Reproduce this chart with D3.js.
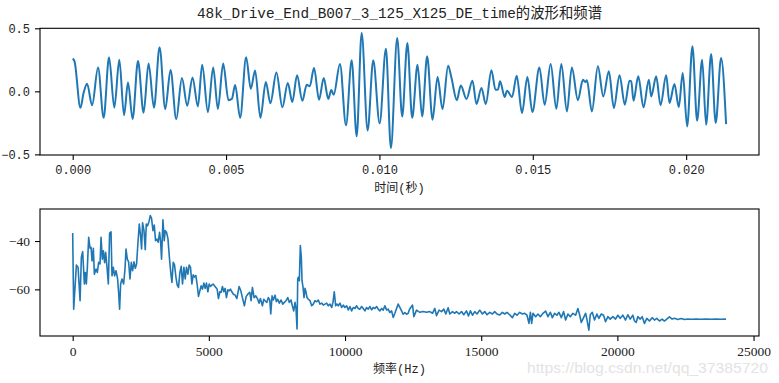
<!DOCTYPE html>
<html>
<head>
<meta charset="utf-8">
<script src="https://cdn.jsdelivr.net/npm/d3@7"></script>
<style>
  body { margin: 0; background: #fff; }
  svg { display: block; }
</style>
</head>
<body>
<div id="chart"></div>
<script>
var waveTime = [0, 0.00006, 0.000251, 0.000358, 0.000469, 0.000632, 0.000827, 0.001009, 0.001185, 0.001357,
  0.00152, 0.001673, 0.001803, 0.001953, 0.002129, 0.002311, 0.002474, 0.00265, 0.002832, 0.003018,
  0.00319, 0.003376, 0.003561, 0.003734, 0.003906, 0.004082, 0.004222, 0.004408, 0.00458, 0.004733,
  0.004906, 0.005078, 0.005189, 0.005296, 0.005459, 0.005654, 0.005807, 0.005947, 0.00612, 0.006296,
  0.006445, 0.006641, 0.006836, 0.007012, 0.007161, 0.007314, 0.007487, 0.00763, 0.007728, 0.007868,
  0.008031, 0.008184, 0.008333, 0.008431, 0.008509, 0.008714, 0.00891, 0.009095, 0.009258, 0.009421,
  0.009616, 0.009798, 0.010007, 0.010212, 0.010374, 0.010579, 0.010742, 0.010911, 0.011068, 0.011243,
  0.011393, 0.011556, 0.011732, 0.011895, 0.012057, 0.01224, 0.01235, 0.012523, 0.012653, 0.012839,
  0.013034, 0.013164, 0.013327, 0.013467, 0.013652, 0.013783, 0.013867, 0.013932, 0.014085, 0.01416,
  0.014323, 0.014476, 0.014648, 0.014824, 0.014987, 0.015215, 0.015387, 0.015583, 0.015768, 0.015931,
  0.016113, 0.016273, 0.016471, 0.016634, 0.016712, 0.016764, 0.016927, 0.017122, 0.017298, 0.01748,
  0.017643, 0.017829, 0.018001, 0.018154, 0.01821, 0.018284, 0.018438, 0.01861, 0.018783, 0.018861,
  0.019023, 0.019164, 0.019349, 0.019456, 0.019619, 0.019759, 0.019889, 0.020032, 0.020205, 0.020358,
  0.020521, 0.020651, 0.020814, 0.020963, 0.021139, 0.021302];
var waveAmp = [0.259, 0.238, -0.13, -0.01, 0.06, -0.11, 0.19, -0.21, 0.27, -0.13,
  0.25, -0.19, 0.07, -0.22, 0.24, -0.17, 0.22, -0.13, 0.35, -0.14,
  0.17, -0.22, 0.105, -0.115, 0.11, -0.12, 0.21, -0.165, 0.19, -0.14,
  0.22, -0.07, -0.06, 0.05, -0.21, 0.27, 0.02, 0.165, -0.21, 0.075,
  -0.095, 0.15, -0.127, 0.066, -0.085, 0.127, -0.075, 0.053, 0.04, 0.185,
  -0.067, 0.105, -0.06, 0.01, -0.027, 0.217, -0.27, 0.246, -0.357, 0.463,
  -0.31, 0.246, -0.254, 0.338, -0.45, 0.423, -0.2, 0.383, -0.21, 0.21,
  -0.2, 0.278, -0.225, 0.113, -0.14, 0.203, 0.105, -0.07, 0.047, -0.06,
  0.084, -0.1, 0.026, -0.1, 0.167, 0.013, 0.015, 0.08, -0.045, 0.005,
  -0.045, 0.124, -0.172, 0.113, -0.164, 0.19, -0.106, 0.217, -0.138, 0.217,
  -0.16, 0.19, -0.07, 0.092, 0.075, 0.087, -0.16, 0.198, -0.04, 0.159,
  -0.132, 0.127, -0.106, 0.084, 0.08, -0.075, 0.119, -0.127, 0.092, -0.04,
  0.119, -0.11, 0.127, -0.093, 0.058, -0.125, 0.145, -0.278, 0.357, -0.233,
  0.251, -0.265, 0.296, -0.252, 0.264, -0.26];

// spectrum (Hz, dB)
var specFreq = [0, 37, 136, 198, 271, 319, 367, 429, 466, 502, 539, 587, 638, 674, 711, 759, 796, 858, 906, 953,
  1004, 1041, 1089, 1125, 1173, 1210, 1261, 1309, 1356, 1408, 1444, 1492, 1540, 1591, 1650, 1686, 1723, 1760, 1811, 1870,
  1921, 1958, 2005, 2053, 2104, 2152, 2200, 2251, 2299, 2346, 2398, 2445, 2493, 2530, 2566, 2618, 2665, 2702, 2749, 2801,
  2849, 2896, 2948, 2995, 3043, 3094, 3142, 3190, 3226, 3263, 3314, 3362, 3398, 3446, 3497, 3556, 3607, 3644, 3692, 3739,
  3791, 3838, 3886, 3937, 3985, 4033, 4084, 4132, 4179, 4231, 4278, 4326, 4377, 4425, 4473, 4524, 4572, 4619, 4671, 4718,
  4766, 4817, 4865, 4912, 4964, 5011, 5059, 5110, 5158, 5206, 5257, 5305, 5352, 5404, 5451, 5499, 5550, 5598, 5646, 5697,
  5745, 5792, 5844, 5903, 5965, 6027, 6111, 6174, 6232, 6305, 6368, 6430, 6503, 6551, 6599, 6661, 6724, 6782, 6845, 6892,
  6966, 7017, 7064, 7127, 7185, 7237, 7273, 7321, 7369, 7431, 7479, 7530, 7589, 7651, 7713, 7772, 7834, 7897, 7955, 8017,
  8065, 8116, 8164, 8201, 8238, 8263, 8285, 8322, 8359, 8395, 8421, 8458, 8494, 8531, 8568, 8604, 8652, 8714, 8776, 8835,
  8897, 8960, 9018, 9081, 9143, 9202, 9264, 9326, 9385, 9447, 9510, 9557, 9605, 9656, 9704, 9752, 9814, 9877, 9935, 9997,
  10060, 10118, 10181, 10243, 10302, 10364, 10426, 10485, 10547, 10610, 10668, 10731, 10793, 10851, 10914, 10976, 11035, 11097, 11159, 11218,
  11280, 11343, 11401, 11464, 11526, 11584, 11647, 11709, 11768, 11830, 11892, 11951, 12013, 12076, 12134, 12197, 12259, 12318, 12369, 12478,
  12527, 12625, 12747, 12868, 12992, 13113, 13212, 13297, 13359, 13455, 13543, 13627, 13700, 13785, 13847, 13946, 14030, 14092, 14188, 14276,
  14360, 14459, 14532, 14605, 14679, 14763, 14847, 14946, 15045, 15130, 15214, 15313, 15412, 15496, 15580, 15679, 15778, 15863, 15947, 16046,
  16145, 16230, 16314, 16413, 16512, 16596, 16681, 16754, 16806, 16853, 16901, 17000, 17084, 17172, 17268, 17366, 17451, 17539, 17612, 17696,
  17780, 17854, 17942, 18026, 18099, 18184, 18272, 18367, 18466, 18550, 18613, 18675, 18759, 18832, 18880, 18953, 19005, 19078, 19162, 19247,
  19320, 19408, 19493, 19566, 19650, 19738, 19834, 19932, 20017, 20105, 20200, 20299, 20383, 20471, 20567, 20629, 20691, 20750, 20838, 20911,
  20995, 21080, 21178, 21277, 21362, 21446, 21545, 21644, 21728, 21813, 21912, 22011, 22095, 22216, 22341, 22462, 22583, 22708, 22891, 23074,
  23257, 23441, 23624, 23807, 23990];
var specDb = [-36.7, -68.2, -49.9, -50.9, -64.7, -46.7, -44.4, -57.8, -53, -57.8, -50.9, -38.5, -43, -42.6, -48.2, -43, -53.7, -51.6, -53, -48.8,
  -49.5, -38.5, -47.5, -44, -49, -44.7, -50.9, -57.8, -36.7, -36.2, -54.4, -50.9, -54.4, -52.3, -55.7, -61.2, -68.2, -57.8, -55.7, -57.8,
  -51.6, -43.3, -47.5, -48.6, -55.7, -48.8, -52.3, -48.6, -51.3, -49.5, -40.5, -33, -37.8, -43.3, -32.5, -35.7, -43.6, -33, -33.7, -32,
  -29.5, -30.6, -35.7, -33.4, -39.9, -39.2, -40.5, -36.4, -39.9, -47.5, -31.2, -39.9, -35.7, -36.4, -38.9, -47.5, -53.7, -57.1, -48.8, -49.9,
  -54.9, -58.2, -59.2, -53, -50.5, -57.8, -50.9, -55.7, -50.9, -53.7, -49.9, -50.9, -57.8, -54, -54.9, -54.3, -58.2, -62.9, -60.6, -58.5,
  -59.9, -57.4, -59.6, -57.4, -61, -57.8, -58.8, -58.2, -57.8, -58.5, -59.2, -59.9, -63.8, -61, -61.2, -58.8, -61, -59.6, -63.4, -60.2,
  -60.6, -59.9, -61, -62, -62.4, -63.8, -58.8, -60.6, -63.4, -66.8, -63, -62, -61.2, -64.7, -59.2, -63.4, -62.7, -63.8, -65.7, -63.8,
  -66.8, -64.1, -64.7, -65.4, -63.4, -64.4, -70.2, -62.7, -64.4, -62.4, -65.1, -64.1, -65.7, -64.4, -66.1, -65.4, -64.7, -63.4, -65.4, -64.4,
  -66.8, -68.9, -65.4, -68, -76.4, -55.7, -55, -56.4, -41.9, -46.7, -56.4, -59.2, -63.4, -59.6, -61.2, -63.4, -64.1, -64.7, -66.8, -66.1,
  -64.7, -65.1, -64.4, -66.1, -65.7, -66.5, -66.1, -65.7, -66.8, -66.1, -67.5, -65.4, -61, -66.8, -66.1, -66.8, -65.7, -67.5, -66.5, -67.5,
  -66.8, -68.5, -67.1, -68.9, -67.5, -67.9, -66.8, -67.9, -68.2, -67.1, -67.9, -68.9, -67.5, -68.2, -67.1, -68.5, -67.5, -67.9, -67.1, -68.2,
  -68.9, -67.9, -68.6, -66.8, -68.5, -68.2, -69.6, -68.9, -71.6, -69.9, -67.9, -66.1, -67.5, -68.9, -70.3, -69.6, -70.3, -69.9, -68.2, -66.5,
  -71.3, -68.6, -69.5, -69.2, -69.5, -69.2, -69.9, -67.9, -70.9, -68.6, -69.2, -68.2, -70.2, -67.6, -70.2, -69.2, -69.9, -69.2, -70.2, -69.2,
  -70.5, -68.9, -71, -68.9, -70.7, -69.2, -70.2, -68.6, -70.2, -69.2, -70.5, -69.5, -70.2, -69.2, -70.2, -70.6, -69.5, -70.2, -69.5, -70.5,
  -71.7, -69.9, -70.7, -69.5, -70.2, -69.9, -70.7, -74.1, -69.5, -74.1, -69.9, -71.3, -70.2, -71.3, -69.9, -69, -71.3, -69.5, -71.7, -69.9,
  -70.7, -69.5, -71.7, -69.2, -72.7, -70.2, -71.3, -69.9, -70.7, -67.9, -70.5, -73.7, -71.7, -69.9, -72.3, -76.9, -70.5, -69.5, -72.7, -70.2,
  -72, -70.2, -70.7, -73.4, -71.3, -72.3, -71.3, -72.3, -70.7, -72, -70.7, -72.7, -70.5, -72.3, -70.7, -73.1, -73.7, -71.3, -72.3, -71.3,
  -74.1, -72, -73.1, -71.7, -72.7, -72, -73.1, -72.3, -73.1, -72.3, -71.4, -72.3, -72, -72.5, -72.1, -72.5, -72.3, -72.4, -72.3, -72.4,
  -72.3, -72.4, -72.3, -72.4, -72.3];

var titleText = "48k_Drive_End_B007_3_125_X125_DE_time的波形和频谱";
var waveTicksX = [0, 0.005, 0.010, 0.015, 0.020];
var waveTickLabelsX = ["0.000", "0.005", "0.010", "0.015", "0.020"];
var waveTicksY = [-0.5, 0, 0.5];
var waveTickLabelsY = ["\u22120.5", "0.0", "0.5"];
var specTicksX = [0, 5000, 10000, 15000, 20000, 25000];
var specTicksY = [-40, -60];

var svgWidth = 779, svgHeight = 383;
var lineColor = "#1f77b4";
var monoFont = "'Liberation Mono', 'Noto Sans CJK SC', monospace";
var serifFont = "'Liberation Serif', serif";

var svg = d3.select("#chart").append("svg")
  .attr("width", svgWidth)
  .attr("height", svgHeight);

// axes boxes
var waveBox = {left: 40, right: 759, top: 28.3, bottom: 155};
var specBox = {left: 40, right: 759, top: 209, bottom: 336};

var xWave = d3.scaleLinear().domain([-0.001066, 0.022375]).range([waveBox.left, waveBox.right]);
var yWave = d3.scaleLinear().domain([-0.505, 0.5]).range([waveBox.bottom, waveBox.top]);
var xSpec = d3.scaleLinear().domain([-1200, 25200]).range([specBox.left, specBox.right]);
var ySpec = d3.scaleLinear().domain([-79.3, -26.75]).range([specBox.bottom, specBox.top]);

function styleAxis(g, font, size) {
  g.select(".domain").remove();
  g.selectAll(".tick line").attr("stroke", "#000").attr("stroke-width", 1.1);
  g.selectAll(".tick text")
    .attr("fill", "#222")
    .style("font-family", font)
    .style("font-size", size + "px");
}

// ---- waveform ----
var waveData = waveTime.map(function(t, i) { return [t, waveAmp[i]]; });

svg.append("g")
  .attr("transform", "translate(0," + waveBox.bottom + ")")
  .call(d3.axisBottom(xWave).tickValues(waveTicksX)
    .tickFormat(function(d, i) { return waveTickLabelsX[i]; })
    .tickSize(5).tickPadding(5))
  .call(styleAxis, monoFont, 12);

svg.append("g")
  .attr("transform", "translate(" + waveBox.left + ",0)")
  .call(d3.axisLeft(yWave).tickValues(waveTicksY)
    .tickFormat(function(d, i) { return waveTickLabelsY[i]; })
    .tickSize(5).tickPadding(5))
  .call(styleAxis, monoFont, 12);

svg.append("path")
  .datum(waveData)
  .attr("fill", "none")
  .attr("stroke", lineColor)
  .attr("stroke-width", 2)
  .attr("stroke-linejoin", "round")
  .attr("d", d3.line()
    .x(function(d) { return xWave(d[0]); })
    .y(function(d) { return yWave(d[1]); })
    .curve(d3.curveMonotoneX));

svg.append("rect")
  .attr("x", waveBox.left).attr("y", waveBox.top)
  .attr("width", waveBox.right - waveBox.left).attr("height", waveBox.bottom - waveBox.top)
  .attr("fill", "none").attr("stroke", "#000").attr("stroke-width", 1.1);

// ---- spectrum ----
var specData = specFreq.map(function(f, i) { return [f, specDb[i]]; });

svg.append("g")
  .attr("transform", "translate(0," + specBox.bottom + ")")
  .call(d3.axisBottom(xSpec).tickValues(specTicksX)
    .tickFormat(d3.format("d"))
    .tickSize(5).tickPadding(5))
  .call(styleAxis, serifFont, 13.5);

svg.append("g")
  .attr("transform", "translate(" + specBox.left + ",0)")
  .call(d3.axisLeft(ySpec).tickValues(specTicksY)
    .tickFormat(function(d) { return "\u2212" + Math.abs(d); })
    .tickSize(5).tickPadding(5))
  .call(styleAxis, serifFont, 13.5);

svg.append("path")
  .datum(specData)
  .attr("fill", "none")
  .attr("stroke", lineColor)
  .attr("stroke-width", 1.6)
  .attr("stroke-linejoin", "round")
  .attr("d", d3.line()
    .x(function(d) { return xSpec(d[0]); })
    .y(function(d) { return ySpec(d[1]); }));

svg.append("rect")
  .attr("x", specBox.left).attr("y", specBox.top)
  .attr("width", specBox.right - specBox.left).attr("height", specBox.bottom - specBox.top)
  .attr("fill", "none").attr("stroke", "#000").attr("stroke-width", 1.1);

// ---- texts ----
svg.append("text")
  .attr("x", 399.5).attr("y", 18)
  .attr("text-anchor", "middle")
  .attr("textLength", 405).attr("lengthAdjust", "spacingAndGlyphs")
  .style("font-family", monoFont).style("font-size", "15px")
  .attr("fill", "#222")
  .text(titleText);

svg.append("text")
  .attr("x", 399.5).attr("y", 192)
  .attr("text-anchor", "middle")
  .style("font-family", monoFont).style("font-size", "12px")
  .attr("fill", "#222")
  .text("时间(秒)");

svg.append("text")
  .attr("x", 399.5).attr("y", 373)
  .attr("text-anchor", "middle")
  .style("font-family", monoFont).style("font-size", "12px")
  .attr("fill", "#222")
  .text("频率(Hz)");

// watermark
svg.append("text")
  .attr("x", 768).attr("y", 373)
  .attr("text-anchor", "end")
  .attr("textLength", 241).attr("lengthAdjust", "spacingAndGlyphs")
  .style("font-family", "'Liberation Sans', sans-serif").style("font-size", "15px")
  .attr("fill", "#e3e3e3")
  .text("https://blog.csdn.net/qq_37385720");
</script>
</body>
</html>
